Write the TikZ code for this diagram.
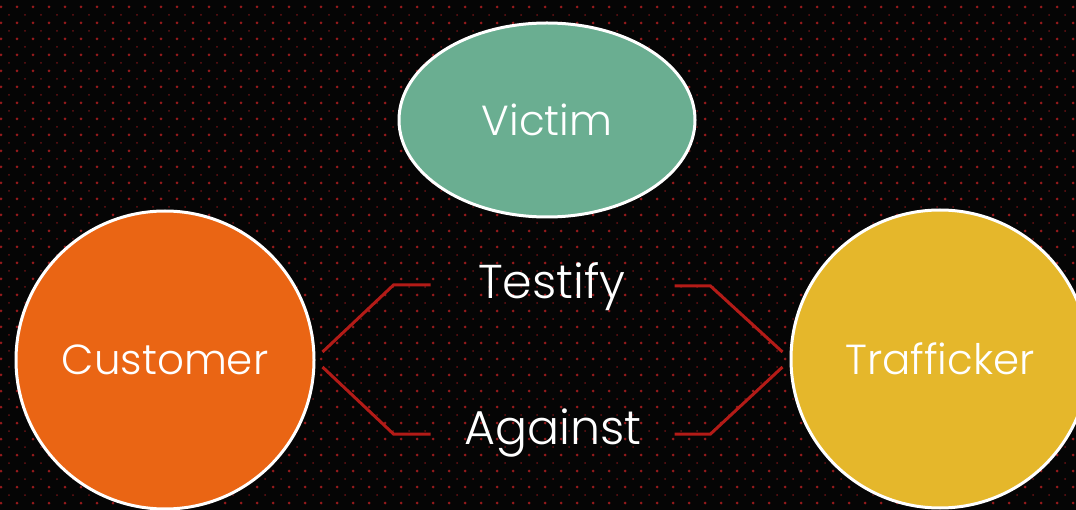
\documentclass[tikz,border=0pt]{standalone}
\usepackage{fontspec}
\setmainfont{Poppins}[UprightFont=* Light]
\usetikzlibrary{shapes.geometric,positioning,calc}

\definecolor{bgblack}{HTML}{050505}
\definecolor{dotred}{HTML}{951A1C}
\definecolor{victimgreen}{HTML}{6AAE91}
\definecolor{custorange}{HTML}{EA6514}
\definecolor{trafyellow}{HTML}{E5B72B}
\definecolor{linkred}{HTML}{B31B17}

\begin{document}
\begin{tikzpicture}[x=1pt, y=-1pt,
        party/.style={draw=white, line width=3pt, circle, minimum size=298pt, inner sep=0pt, text=white, font=\fontsize{42}{48}\selectfont},
        word/.style={text=white, inner sep=0pt, font=\fontsize{47.5}{54}\selectfont},
        link/.style={draw=linkred, line width=3pt}
    ]
        % background and dots
        \fill[bgblack] (0,0) rectangle (1076,510);
        \useasboundingbox (0,0) rectangle (1076,510);
        \foreach \i in {0,...,67} {
            \foreach \j in {0,...,32} {
                \fill[dotred] (\i*16+1,\j*16+7) circle (1.5pt);
                \fill[dotred!70!black] (\i*16+9,\j*16+15) circle (1pt);
            }
        }

        \node [party, fill=custorange] (cust) at (165,360) {Customer};
        \node [party, fill=trafyellow] (traf) at (940,359) {Trafficker};
        \node [draw=white, line width=3pt, ellipse, minimum width=296pt, minimum height=194pt, inner sep=0pt,
               fill=victimgreen, text=white, font=\fontsize{42}{48}\selectfont] (victim) at (547,120) {Victim};
        \node [word] (testify) at (552,287) {Testify};
        \node [word] (against) at (553,433) {Against};

        \draw [link] ([shift={(7,-8)}]cust.east) -- ++(71,-67) -- ++(37,0);
        \draw [link] ([shift={(7,7)}]cust.east) -- ++(71,67) -- ++(37,0);
        \draw [link] ([shift={(-7,-7)}]traf.west) -- ++(-72,-66) -- ++(-36,0);
        \draw [link] ([shift={(-7,8)}]traf.west) -- ++(-72,67) -- ++(-36,0);
    \end{tikzpicture}
\end{document}
